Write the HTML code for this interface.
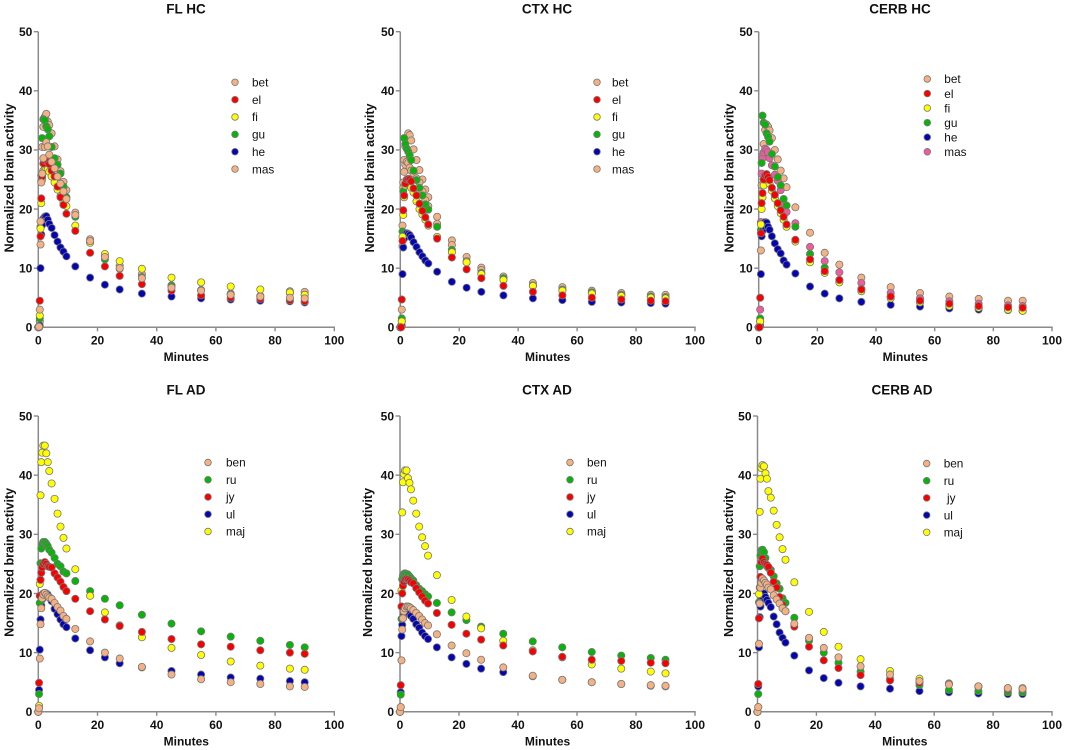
<!DOCTYPE html>
<html lang="en">
<head>
<meta charset="utf-8">
<title>Normalized brain activity</title>
<style>
html,body{margin:0;padding:0;background:#fff;width:1065px;height:750px;overflow:hidden}
svg{display:block}
text{font-family:"Liberation Sans",Arial,sans-serif;fill:#111}
.tick{font-size:12px;font-weight:bold}
.axis-title{font-size:12.6px;font-weight:bold}
.x-title{font-size:12px;font-weight:bold}
.panel-title{font-size:13.5px;font-weight:bold}
.legend{font-size:11.8px}
</style>
</head>
<body>
<svg id="chart" xmlns="http://www.w3.org/2000/svg" width="1065" height="750" viewBox="0 0 1065 750"></svg>
<script>
const minutes=[0,0.25,0.5,0.75,1,1.3,1.7,2.2,2.7,3.2,3.7,4.5,5.5,6.5,7.5,8.5,9.5,12.5,17.5,22.5,27.5,35,45,55,65,75,85,90];
const yTickLabels=[0,10,20,30,40,50];
const xTickLabels=[0,20,40,60,80,100];

const flHcBet=[0,0.2,1,14,24.7,30.5,33.9,35.6,36.1,34.8,34.2,32.8,30.6,28.4,26.4,24.6,23.2,19.4,14.9,12,10.4,9,7.1,6.3,5.7,5.3,6.1,6];
const flHcEl=[0,0,4.5,15.4,21.8,25.5,27.7,28.2,28.4,28,27.6,26.5,25.5,23.8,22,20.7,19.2,16.3,12.6,10.3,8.7,7.3,6.2,5.4,5,4.8,4.6,4.4];
const flHcFi=[0,0.1,2,16.7,21,25,26.5,26.8,26.8,26.7,26.3,25.5,24.5,23.3,22.2,21.2,20.5,17.2,14.3,12.4,11.2,9.9,8.4,7.6,6.9,6.4,5.9,5.5];
const flHcGu=[0,0.1,1.5,17,25.7,32,35.2,35,34,33.5,32.3,30.5,28.6,27.5,26,23.8,22,18.7,14.5,11.5,9.9,8.5,7,6.3,5.6,5.3,5.8,5.5];
const flHcHe=[0,0,0.3,10,15.7,17.3,18.4,18.7,18.8,18.2,17.5,16.8,15.6,14.5,13.5,12.8,12,10.3,8.4,7.2,6.4,5.7,5.2,4.9,4.7,4.5,4.4,4.2];
const flHcMas=[0,0.1,3,17.9,24.5,26,28.6,30.5,31.3,30.6,29.2,28,26.9,25.5,24.3,23,21.7,19,14.6,11.9,10,8.3,6.7,6.2,5.5,5.2,5,4.9];

const ctxHcBet=[0,0.3,1,13.7,24.5,28.3,30.6,32,32.8,32.5,31.6,30.1,28.3,26.6,25,23.3,22,18.7,14.7,11.9,10.1,8.6,7.5,6.8,6.2,5.8,5.5,5.5];
const ctxHcEl=[0,0,4.7,14.6,19.8,22.3,24.3,25,25.1,25,24.7,23.5,22.3,20.9,19.7,18.6,17.4,15,11.8,9.8,8.3,7,6,5.4,5,4.7,4.5,4.4];
const ctxHcFi=[0,0.1,1,15.3,19,22,24,24.5,24.5,24,23.6,22.8,21.3,20,19.1,18.2,17.2,15.3,12.7,11,9,8,7,6.2,5.7,5.3,5,4.9];
const ctxHcGu=[0,0.1,1.5,16.2,23,32,31,30.2,29.7,29.1,28.3,26.5,24.9,23.6,22.3,20.8,19.9,17,13.1,11,9.2,8.3,7.1,6.4,5.9,5.5,5.2,5.1];
const ctxHcHe=[0,0,0.3,9,13.5,15,15.8,15.9,15.8,15.6,15.2,14.4,13.6,12.7,12,11.3,10.8,9.4,7.7,6.7,6,5.4,4.9,4.6,4.3,4.2,4.1,4];
const ctxHcMas=[0,0.1,3,17.2,23.6,26.3,27.5,28,27.8,27,26.5,26,25.2,24.5,23,21.5,20.5,17.5,13.9,11.2,9.7,8.3,7,6.3,5.9,5.5,5.2,5.1];

const cerbHcBet=[0,0.2,1,13,24,29,31,33.4,34.3,33.9,33.3,32,30,28.4,26.5,25.2,23.7,20.3,16,12.6,10.6,8.4,6.8,5.8,5.2,4.8,4.5,4.5];
const cerbHcEl=[0,0,5,15.9,21,22.7,25,25.7,25.9,25.4,24.9,23.6,22.4,21,19.8,18.7,17.4,14.8,11.5,9.5,8,6.4,5.2,4.5,4,3.6,3.4,3.3];
const cerbHcFi=[0,0.1,1,17.4,20,22,24,25,25.2,24.9,24.3,23.1,21.8,20.5,19.3,18.2,17,14.5,11,9.2,7.6,6.1,4.9,4.2,3.6,3.3,3,2.8];
const cerbHcGu=[0,0.1,1.5,16.5,27.8,35.8,34.6,34.3,32.8,32.2,31.4,29.3,27.2,25.4,24,21.7,20.6,17,12.4,10.1,8,6.5,5.2,4.4,3.8,3.3,3,2.8];
const cerbHcHe=[0,0,0.3,9,15.4,16.3,17.2,17.8,17.7,17,16.5,15.4,14.2,13.2,12.5,11.3,10.6,9.1,6.9,5.7,4.9,4.3,3.8,3.5,3.2,3,2.9,2.8];
const cerbHcMas=[0,0.1,3,17.8,26,28.6,29.6,30.2,30,29.6,28.6,27.4,25.8,24.8,23.2,21,19.5,17.6,13.6,11.2,9.3,7.5,5.8,4.9,4.4,4,3.7,3.6];

const flAdBen=[0,0.6,9,14.8,17.5,19.2,19.8,20.1,19.8,19.5,19.3,19.1,18.4,17.7,17.1,16.2,15.7,14,11.9,10,9,7.6,6.3,5.5,5,4.7,4.3,4.2];
const flAdRu=[0,3,18.4,25.1,27.6,28.3,28.7,28.7,28.4,28,27.4,26.9,26,25,24.6,23.7,23.4,22.1,20.4,19.1,18,16.4,14.9,13.6,12.7,12,11.3,10.9];
const flAdJy=[0,4.9,19.6,22.3,23.5,24.4,25,25.3,25,24.6,24.5,24.4,23.4,22.7,22,21.1,20.4,19.1,17,15.6,14.5,13.5,12.3,11.4,11,10.4,10,9.8];
const flAdUl=[0,3.7,10.5,15.6,18,19,20,20.1,20,19.8,19.4,18.7,17.4,16.5,15.6,14.8,14.3,12.4,10.4,9.2,8.2,7.5,6.9,6.3,5.8,5.6,5.2,5];
const flAdMaj=[0,1,21.6,36.6,42.2,43.8,45,45,43.7,42.2,40.7,38.6,36,33.5,31.3,29.4,27.6,24.1,19.6,16.8,14.6,12.6,10.8,9.6,8.5,7.8,7.3,7.1];

const ctxAdBen=[0,0.8,8.7,13.9,15.8,17,17.5,17.8,17.8,17.7,17.5,17.2,16.7,16.2,15.6,15,14.6,13.1,11.2,9.9,8.8,7.5,6.1,5.4,5,4.7,4.5,4.4];
const ctxAdRu=[0,2.9,15.7,22.4,23,23.3,23.4,23.3,23.2,22.9,22.6,22.2,21.4,20.8,20.4,19.9,19.5,18.4,16.8,15.5,14.4,13.2,11.9,10.9,10.1,9.5,9.1,8.8];
const ctxAdJy=[0,4.5,17.8,20,21.3,22,22.4,22.5,22.4,22.2,21.9,21.7,20.9,20.2,19.5,18.8,18.3,16.7,14.7,13.2,12.2,11.2,10.2,9.3,8.8,8.6,8.3,8.2];
const ctxAdUl=[0,3.3,12.8,14.7,15.8,16.5,16.8,16.9,16.8,16.6,16.2,15.7,14.8,14.2,13.4,12.8,12.3,10.9,9.2,8.1,7.3,6.7,6,5.4,5,4.7,4.4,4.3];
const ctxAdMaj=[0,0.8,20.5,33.7,38.8,40.2,40.8,40.8,39.5,38.7,37.6,35.7,33.5,31.3,29.5,28,26.4,23.1,18.9,16.1,14.1,12,10.4,9.2,8,7.3,6.8,6.5];

const cerbAdBen=[0,0.8,11.5,18.3,21,21.8,22.5,22.2,21.8,21.5,21,20.7,19.7,19,18.3,17.5,17,14.9,12.5,10.8,9.2,7.7,6.3,5.2,4.6,4.3,4,3.9];
const cerbAdRu=[0,3,18.5,24.6,26.4,27.3,27.4,27,26,24.6,24.3,24,22.9,21.7,20.8,19.2,18.4,15.9,12,10,8.3,6.8,5.6,4.5,3.7,3.5,3.3,3.3];
const cerbAdJy=[0,4.7,15.8,21,22.8,25.3,25.9,25.3,25,24.8,24.5,23.5,22,21,19.4,18.1,17,14.4,11,8.7,7.4,6.2,5.3,4.9,4.7,4.2,3.8,3.8];
const cerbAdUl=[0,4.3,10.9,16,17.8,19,19.9,20,19.4,18.9,18.4,17.7,16.1,14.8,13.4,12.5,11.7,9.5,7,5.7,4.9,4.3,3.9,3.5,3.3,3.1,3,3];
const cerbAdMaj=[0,0.8,19.9,33.8,39.4,41.2,41.7,41.5,40.3,39.4,37.3,36.2,34,31.6,29.5,27.5,25.7,21.9,16.9,13.5,11,8.9,6.9,5.6,4.8,4.3,4,4];

const TAN='#F4B183',RED='#F80000',YEL='#FFFF00',GRN='#08B408',BLU='#0404B0',PNK='#EE5C9C';

const panels=[
 {key:'fl-hc',title:'FL HC',x0:38.3,x100:334.3,y0:327.3,y50:31.7,titleX:186,titleY:13.3,yTitleX:13.3,
  legend:{mx:235,tx:252,y:82.3,dy:17.35},
  series:[['bet',TAN,flHcBet],['el',RED,flHcEl],['fi',YEL,flHcFi],['gu',GRN,flHcGu],['he',BLU,flHcHe],['mas',TAN,flHcMas]],
  order:['bet','gu','he','fi','el','mas']},
 {key:'ctx-hc',title:'CTX HC',x0:400.3,x100:695,y0:327.3,y50:31.7,titleX:547,titleY:13.3,yTitleX:374,
  legend:{mx:597,tx:612,y:82.3,dy:17.35},
  series:[['bet',TAN,ctxHcBet],['el',RED,ctxHcEl],['fi',YEL,ctxHcFi],['gu',GRN,ctxHcGu],['he',BLU,ctxHcHe],['mas',TAN,ctxHcMas]],
  order:['bet','mas','gu','he','fi','el']},
 {key:'cerb-hc',title:'CERB HC',x0:758.7,x100:1052,y0:327.3,y50:31.7,titleX:900,titleY:13.3,yTitleX:733.5,
  legend:{mx:927.3,tx:944.3,y:79,dy:14.55},
  series:[['bet',TAN,cerbHcBet],['el',RED,cerbHcEl],['fi',YEL,cerbHcFi],['gu',GRN,cerbHcGu],['he',BLU,cerbHcHe],['mas',PNK,cerbHcMas]],
  order:['bet','mas','gu','he','fi','el']},
 {key:'fl-ad',title:'FL AD',x0:38.3,x100:334.3,y0:711.8,y50:416,titleX:186,titleY:394.5,yTitleX:13.3,
  legend:{mx:208,tx:226,y:462.5,dy:17.25},
  series:[['ben',TAN,flAdBen],['ru',GRN,flAdRu],['jy',RED,flAdJy],['ul',BLU,flAdUl],['maj',YEL,flAdMaj]],
  order:['ul','ru','maj','jy','ben']},
 {key:'ctx-ad',title:'CTX AD',x0:400,x100:695,y0:711.8,y50:416,titleX:547,titleY:394.5,yTitleX:372,
  legend:{mx:570,tx:587,y:462.5,dy:17.25},
  series:[['ben',TAN,ctxAdBen],['ru',GRN,ctxAdRu],['jy',RED,ctxAdJy],['ul',BLU,ctxAdUl],['maj',YEL,ctxAdMaj]],
  order:['ul','ru','maj','jy','ben']},
 {key:'cerb-ad',title:'CERB AD',x0:757.5,x100:1052,y0:711.8,y50:416,titleX:902,titleY:394.5,yTitleX:733,
  legend:{mx:926.7,tx:943.7,y:463.5,dy:17.2},
  series:[['ben',TAN,cerbAdBen],['ru',GRN,cerbAdRu],['\u00a0jy',RED,cerbAdJy],['ul',BLU,cerbAdUl],['maj',YEL,cerbAdMaj]],
  order:['ul','ru','maj','\u00a0jy','ben']}
];

const NS='http://www.w3.org/2000/svg';
const AXIS='#8a8a8a';
const EDGE='#787878';
const RADIUS=3.6;
const root=document.getElementById('chart');

function make(tag,attrs,parent){
  const el=document.createElementNS(NS,tag);
  for(const k in attrs){el.setAttribute(k,attrs[k]);}
  parent.appendChild(el);
  return el;
}
function xScale(p,v){return p.x0+(v/100)*(p.x100-p.x0);}
function yScale(p,v){return p.y0-(v/50)*(p.y0-p.y50);}

panels.forEach(function(p){
  const g=make('g',{},root);
  
  

  const title=make('text',{x:p.titleX,y:p.titleY,'text-anchor':'middle','class':'panel-title'},g);
  title.textContent=p.title;
  
  

  const yAxis=make('line',{x1:p.x0,x2:p.x0,y1:p.y50,y2:p.y0,stroke:AXIS,'stroke-width':1.5},g);
  
  

  const xAxis=make('line',{x1:p.x0-0.7,x2:p.x100+0.7,y1:p.y0,y2:p.y0,stroke:AXIS,'stroke-width':1.5},g);
  
  

  yTickLabels.forEach(function(v){
    const y=yScale(p,v);
    const tick=make('line',{x1:p.x0-4.5,x2:p.x0,y1:y,y2:y,stroke:AXIS,'stroke-width':1.4},g);
    
    
    const label=make('text',{x:p.x0-6,y:y+4.3,'text-anchor':'end','class':'tick'},g);
    label.textContent=String(v);
    
    
  });

  xTickLabels.forEach(function(v){
    const x=xScale(p,v);
    const tick=make('line',{x1:x,x2:x,y1:p.y0,y2:p.y0+4,stroke:AXIS,'stroke-width':1.4},g);
    
    
    const label=make('text',{x:x,y:p.y0+17,'text-anchor':'middle','class':'tick'},g);
    label.textContent=String(v);
    
    
  });

  const xTitle=make('text',{x:(p.x0+p.x100)/2,y:p.y0+33.5,'text-anchor':'middle','class':'x-title'},g);
  xTitle.textContent='Minutes';
  
  

  const cy=(p.y0+p.y50)/2-1.5;
  const yTitle=make('text',{x:p.yTitleX,y:cy,'text-anchor':'middle','class':'axis-title',transform:'rotate(-90 '+p.yTitleX+' '+cy+')'},g);
  yTitle.textContent='Normalized brain activity';
  
  

  p.order.forEach(function(name){
    const s=p.series.find(function(e){return e[0]===name;});
    const sg=make('g',{},g);
    
    
    s[2].forEach(function(v,i){
      const pt=make('circle',{cx:xScale(p,minutes[i]),cy:yScale(p,v),r:RADIUS,fill:s[1],stroke:EDGE,'stroke-width':0.8},sg);
      
      
    });
  });

  const lg=make('g',{},g);
  
  
  p.series.forEach(function(s,i){
    const y=p.legend.y+i*p.legend.dy;
    const marker=make('circle',{cx:p.legend.mx,cy:y,r:3.3,fill:s[1],stroke:EDGE,'stroke-width':0.8},lg);
    
    
    const t=make('text',{x:p.legend.tx,y:y+4.2,'class':'legend'},lg);
    t.textContent=s[0];
    
    
  });
});
</script>
</body>
</html>
